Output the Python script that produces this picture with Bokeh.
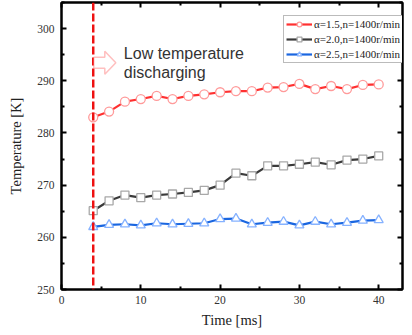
from bokeh.plotting import figure
from bokeh.models import Span, LinearAxis, Range1d, Legend, LegendItem, Label, PolyAnnotation, FixedTicker
from bokeh.embed import file_html
from bokeh.resources import INLINE

time_ms = [4, 6, 8, 10, 12, 14, 16, 18, 20, 22, 24, 26, 28, 30, 32, 34, 36, 38, 40]
temp_a15 = [283.0, 284.1, 286.0, 286.5, 287.1, 286.5, 287.1, 287.4, 287.8, 288.0,
            288.0, 288.7, 288.8, 289.4, 288.4, 289.0, 288.4, 289.2, 289.3]
temp_a20 = [265.1, 267.0, 268.1, 267.6, 268.1, 268.3, 268.6, 269.0, 270.0, 272.3,
            271.8, 273.7, 273.7, 274.0, 274.4, 273.9, 274.8, 275.0, 275.6]
temp_a25 = [262.0, 262.4, 262.5, 262.3, 262.7, 262.5, 262.6, 262.7, 263.5, 263.6,
            262.5, 262.8, 263.0, 262.3, 263.0, 262.5, 262.8, 263.2, 263.3]
series_labels = ["α=1.5,n=1400r/min", "α=2.0,n=1400r/min", "α=2.5,n=1400r/min"]
x_ticks = [0, 10, 20, 30, 40]
y_ticks = [250, 260, 270, 280, 290, 300]
x_minor = [5, 15, 25, 35]
y_minor = [255, 265, 275, 285, 295, 305]
discharge_start = 4

SERIF = "Liberation Serif"

p = figure(frame_width=341, frame_height=287, output_backend="svg", toolbar_location=None,
           x_range=Range1d(0, 43), y_range=Range1d(250, 305),
           min_border_left=61, min_border_right=2, min_border_top=2, min_border_bottom=40)
p.xgrid.visible = False
p.ygrid.visible = False
p.outline_line_color = "black"
p.outline_line_width = 2
p.background_fill_color = "white"
p.border_fill_color = "white"

def style_axis(ax, ticks, minor, labels=True):
    ax.ticker = FixedTicker(ticks=ticks, minor_ticks=minor)
    ax.axis_line_width = 2
    ax.axis_line_color = "black"
    ax.major_tick_in = 5
    ax.major_tick_out = 0
    ax.minor_tick_in = 3
    ax.minor_tick_out = 0
    ax.major_tick_line_width = 2
    ax.minor_tick_line_width = 2
    ax.major_tick_line_color = "black"
    ax.minor_tick_line_color = "black"
    if labels:
        ax.major_label_text_font = SERIF
        ax.major_label_text_font_size = "11.5px"
        ax.major_label_text_color = "#333333"
        ax.axis_label_text_font = SERIF
        ax.axis_label_text_font_size = "14.5px"
        ax.axis_label_text_font_style = "normal"
        ax.axis_label_text_color = "#222222"
    else:
        ax.major_label_overrides = {t: "" for t in ticks}
        ax.major_label_standoff = 0

style_axis(p.xaxis[0], x_ticks, x_minor)
style_axis(p.yaxis[0], y_ticks, y_minor)
p.xaxis[0].axis_label = "Time [ms]"
p.yaxis[0].axis_label = "Temperature [K]"
p.xaxis[0].major_label_standoff = 6
p.xaxis[0].axis_label_standoff = 5
p.yaxis[0].major_label_standoff = 7
p.yaxis[0].axis_label_standoff = 10

top_ax = LinearAxis()
style_axis(top_ax, x_ticks, x_minor, labels=False)
p.add_layout(top_ax, "above")
right_ax = LinearAxis()
style_axis(right_ax, y_ticks, y_minor, labels=False)
p.add_layout(right_ax, "right")

# vertical dashed line at discharge start
p.add_layout(Span(location=discharge_start, dimension="height", line_color="#ee1111",
                  line_width=2.5, line_dash="8 3"))

styles = [
    (temp_a15, "#ff3030", "#ff9a9a", "circle", 9),
    (temp_a20, "#3a3a3a", "#a8a8a8", "square", 8),
    (temp_a25, "#1a66e0", "#86b2ff", "triangle", 9),
]
items = []
for (vals, lc, mc, mk, sz), lab in zip(styles, series_labels):
    r1 = p.line(time_ms, vals, line_color=lc, line_width=2.2)
    r2 = p.scatter(time_ms, vals, marker=mk, size=sz, fill_color="white",
                   line_color=mc, line_width=1.3)
    items.append(LegendItem(label=lab, renderers=[r1, r2]))

legend = Legend(items=items, location=(222, 226))
legend.label_text_font = SERIF
legend.label_text_font_size = "11px"
legend.label_text_color = "#222222"
legend.glyph_width = 26
legend.glyph_height = 12
legend.label_height = 12
legend.spacing = 3
legend.padding = 2
legend.margin = 0
legend.label_standoff = 2
legend.border_line_color = "#777777"
legend.border_line_width = 1
legend.background_fill_color = "white"
legend.background_fill_alpha = 1
p.add_layout(legend)

# hollow block arrow
arrow_x = [4.07, 5.46, 5.46, 6.85, 5.46, 5.46, 4.07]
arrow_y = [294.51, 294.51, 295.66, 293.46, 291.26, 292.41, 292.41]
p.add_layout(PolyAnnotation(xs=arrow_x, ys=arrow_y, xs_units="data", ys_units="data",
                            fill_color="white", fill_alpha=1, line_color="#ff2a2a",
                            line_width=1.5))

p.add_layout(Label(x=7.86, y=295.3, text="Low temperature", text_font="Liberation Sans",
                   text_font_size="16px", text_color="#333333", text_baseline="middle"))
p.add_layout(Label(x=7.86, y=291.6, text="discharging", text_font="Liberation Sans",
                   text_font_size="16px", text_color="#333333", text_baseline="middle"))

open("out.html", "w").write(file_html(p, INLINE))
